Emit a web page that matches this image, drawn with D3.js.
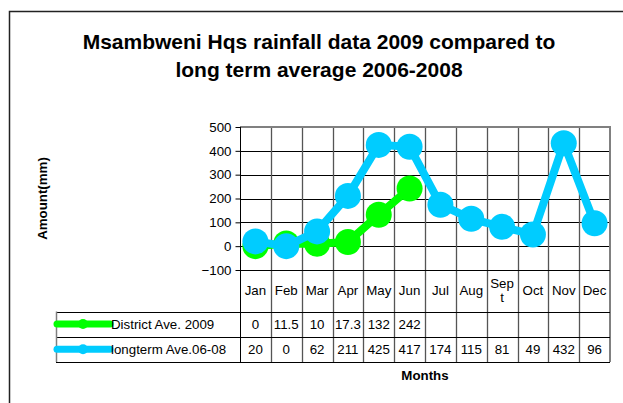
<!DOCTYPE html>
<html>
<head>
<meta charset="utf-8">
<script src="https://cdn.jsdelivr.net/npm/d3@7"></script>
<style>
body{margin:0;background:#fff}
text{font-family:"Liberation Sans",Arial,sans-serif;fill:#000}
</style>
</head>
<body>
<div id="chart"></div>
<script>
// data
var months   = ['Jan','Feb','Mar','Apr','May','Jun','Jul','Aug','Sept','Oct','Nov','Dec']
var district = [0, 11.5, 10, 17.3, 132, 242, null, null, null, null, null, null]
var longterm = [20, 0, 62, 211, 425, 417, 174, 115, 81, 49, 432, 96]
var yTicks   = [-100, 0, 100, 200, 300, 400, 500]
var seriesNames = ['District Ave. 2009', 'longterm Ave.06-08']
var titleLines  = ['Msambweni Hqs rainfall data 2009 compared to', 'long term average 2006-2008']

var W=623, H=403
var pL=240, pR=610, pT=127, pB=270
var rowH=[270,311.5,336.5,362]
var legLeft=56
var green='#00ff00', blue='#00ccff'

var svg=d3.select('#chart').append('svg')
    .attr('width',W).attr('height',H)

// outer frame (only top and left visible)
svg.append('path')
    .attr('d','M9.5,403V11.5H623')
    .attr('fill','none').attr('stroke','#222').attr('stroke-width',1.5)

svg.selectAll('.title').data(titleLines).enter().append('text')
    .attr('class','title')
    .attr('x',319).attr('y',function(d,i){return 49+i*28})
    .attr('text-anchor','middle')
    .style('font-size','21px').style('font-weight','bold')
    .text(function(d){return d})

var x=d3.scaleBand().domain(months).range([pL,pR])
var y=d3.scaleLinear().domain([-100,500]).range([pB,pT])

// horizontal grid
svg.append('g').selectAll('line').data(yTicks.filter(function(d){return d>-100 && d<500})).enter()
    .append('line')
    .attr('x1',pL).attr('x2',pR)
    .attr('y1',function(d){return Math.round(y(d))+0.5})
    .attr('y2',function(d){return Math.round(y(d))+0.5})
    .attr('stroke','#000').attr('stroke-width',1)

// vertical grid + table column lines
svg.append('g').selectAll('line').data(months.slice(1)).enter()
    .append('line')
    .attr('x1',function(d){return Math.round(x(d))+0.5})
    .attr('x2',function(d){return Math.round(x(d))+0.5})
    .attr('y1',pT).attr('y2',rowH[3])
    .attr('stroke','#555').attr('stroke-width',1.3)

// plot border top/right
svg.append('path')
    .attr('d','M'+pL+','+pT+'H'+pR+'V'+rowH[3])
    .attr('fill','none').attr('stroke','#808080').attr('stroke-width',2)

// y axis
var yAxis=svg.append('g')
    .attr('transform','translate('+(pL+0.5)+',0)')
    .call(d3.axisLeft(y).tickValues(yTicks).tickSize(5).tickPadding(4))
yAxis.select('.domain').remove()
yAxis.selectAll('line').attr('stroke','#000')
yAxis.selectAll('text').style('font-size','13.3px').style('font-family','"Liberation Sans",Arial,sans-serif').attr('fill','#000')
svg.append('line')
    .attr('x1',pL+0.5).attr('x2',pL+0.5).attr('y1',pT).attr('y2',rowH[3])
    .attr('stroke','#000').attr('stroke-width',1)

// table horizontal lines
svg.append('line').attr('x1',pL).attr('x2',pR).attr('y1',pB+0.5).attr('y2',pB+0.5)
    .attr('stroke','#000')
svg.append('g').selectAll('line').data(rowH.slice(1)).enter().append('line')
    .attr('x1',legLeft).attr('x2',pR)
    .attr('y1',function(d){return Math.round(d)+0.5}).attr('y2',function(d){return Math.round(d)+0.5})
    .attr('stroke','#000')
svg.append('line').attr('x1',legLeft+0.5).attr('x2',legLeft+0.5).attr('y1',rowH[1]).attr('y2',rowH[3])
    .attr('stroke','#808080').attr('stroke-width',1.5)

// month header
svg.append('g').selectAll('text').data(months).enter().append('text')
    .attr('x',function(d){return x(d)+x.bandwidth()/2})
    .attr('y',295)
    .attr('text-anchor','middle')
    .style('font-size','13.3px')
    .each(function(d){
        var t=d3.select(this)
        if(d=='Sept'){
            t.append('tspan').attr('x',x(d)+x.bandwidth()/2).attr('y',288).text('Sep')
            t.append('tspan').attr('x',x(d)+x.bandwidth()/2).attr('y',302).text('t')
        }else t.text(d)
    })

// series lines + markers
var line=d3.line()
    .defined(function(d){return d!=null})
    .x(function(d,i){return x(months[i])+x.bandwidth()/2})
    .y(function(d){return y(d)})

var series=[{v:district,c:green},{v:longterm,c:blue}]
series.forEach(function(s,k){
    svg.append('path').datum(s.v)
        .attr('d',line)
        .attr('fill','none').attr('stroke',s.c).attr('stroke-width',8)
        .attr('stroke-linejoin','round')
    svg.append('g').selectAll('circle')
        .data(s.v.map(function(v,i){return {v:v,m:months[i]}}).filter(function(d){return d.v!=null}))
        .enter().append('circle')
        .attr('cx',function(d){return x(d.m)+x.bandwidth()/2})
        .attr('cy',function(d){return y(d.v)})
        .attr('r',13)
        .attr('fill',s.c)

    // table row
    var cy=(rowH[k+1]+rowH[k+2])/2
    svg.append('line')
        .attr('x1',legLeft+1).attr('x2',110).attr('y1',cy).attr('y2',cy)
        .attr('stroke',s.c).attr('stroke-width',7).attr('stroke-linecap','round')
    svg.append('circle').attr('cx',83).attr('cy',cy).attr('r',5).attr('fill',s.c)
    svg.append('text').attr('x',111).attr('y',cy+5)
        .style('font-size','13.3px').text(seriesNames[k])
    svg.append('g').selectAll('text')
        .data(s.v.map(function(v,i){return {v:v,m:months[i]}}).filter(function(d){return d.v!=null}))
        .enter().append('text')
        .attr('x',function(d){return x(d.m)+x.bandwidth()/2})
        .attr('y',cy+5)
        .attr('text-anchor','middle')
        .style('font-size','13.3px')
        .text(function(d){return d.v})
})

// axis titles
svg.append('text')
    .attr('transform','translate(47,'+((pT+pB)/2)+') rotate(-90)')
    .attr('text-anchor','middle')
    .style('font-size','13.3px').style('font-weight','bold')
    .text('Amount(mm)')
svg.append('text')
    .attr('x',(pL+pR)/2).attr('y',380)
    .attr('text-anchor','middle')
    .style('font-size','13.3px').style('font-weight','bold')
    .text('Months')
</script>
</body>
</html>
